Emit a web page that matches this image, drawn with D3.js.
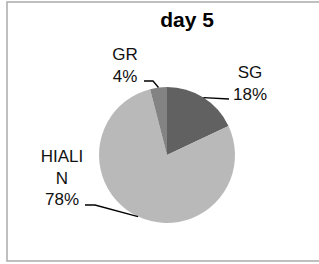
<!DOCTYPE html>
<html><head><meta charset="utf-8">
<script src="https://cdn.jsdelivr.net/npm/d3@7"></script>
<style>html,body{margin:0;padding:0;background:#fff;}svg{display:block;}</style>
</head><body>
<script>
const title = "day 5";
const categories = ["SG", "HIALIN", "GR"];
const values = [18, 78, 4];
const colors = ["#616161", "#b9b9b9", "#838383"];

const W = 319, H = 264;
const svg = d3.select("body").append("svg").attr("width", W).attr("height", H);
const font = "'Liberation Sans', Arial, sans-serif";

svg.append("rect").attr("x", 7).attr("y", 2).attr("width", 320).attr("height", 259)
  .attr("fill", "#fff").attr("stroke", "#b0b0b0").attr("stroke-width", 1.6);

svg.append("text").attr("x", 187).attr("y", 27).attr("text-anchor", "middle")
  .attr("font-family", font).attr("font-weight", "bold").attr("font-size", 21)
  .attr("fill", "#000").text(title);

const cx = 167, cy = 155, r = 68;
const data = categories.map((c, i) => ({cat: c, value: values[i], color: colors[i]}));
const pie = d3.pie().value(d => d.value).sort(null);
const arcs = pie(data);
const arc = d3.arc().innerRadius(0).outerRadius(r);
const g = svg.append("g").attr("transform", `translate(${cx},${cy})`);
g.selectAll("path").data(arcs).join("path").attr("d", arc).attr("fill", d => d.data.color);

// label layout (relative to the pie centre)
const layout = {
  SG:     {lines: ["SG"], x: 83, y: -77, elbow: [62, -56], end: [62, -56]},
  HIALIN: {lines: ["HIALI", "N"], x: -105, y: 7, elbow: [-72, 50], end: [-82, 50]},
  GR:     {lines: ["GR"], x: -42, y: -95, elbow: [-14, -74], end: [-23, -74]}
};
const lh = 21.5;
arcs.forEach(a => {
  const L = layout[a.data.cat];
  const mid = (a.startAngle + a.endAngle) / 2;
  const p0 = [r * Math.sin(mid), -r * Math.cos(mid)];
  g.append("path")
    .attr("d", d3.line()([p0, L.elbow, L.end]))
    .attr("fill", "none").attr("stroke", "#000").attr("stroke-width", 1.3);
  const t = g.append("text").attr("text-anchor", "middle")
    .attr("font-family", font).attr("font-size", 17).attr("fill", "#111");
  const lines = L.lines.concat([d3.format(".0f")(a.data.value) + "%"]);
  lines.forEach((s, i) => {
    t.append("tspan").attr("x", L.x).attr("y", L.y + i * lh).text(s);
  });
});
</script>
</body></html>
